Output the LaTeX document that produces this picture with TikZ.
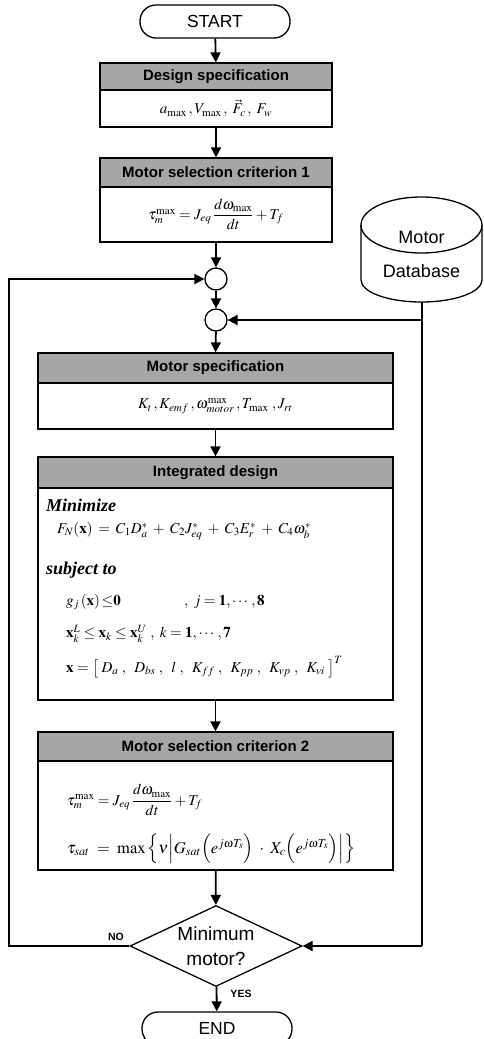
\documentclass[tikz,border=0pt]{standalone}
\usepackage{mathptmx}
\usepackage{amsmath}
\usepackage[no-math]{fontspec}
\setmainfont{Liberation Serif}
\setsansfont{Liberation Sans}
\usetikzlibrary{arrows.meta,shapes.geometric}
\newcommand\msz{\fontsize{15}{18}\selectfont}
\tikzset{
  hdr/.style={draw, line width=1.3pt, fill=black!35, inner sep=0pt,
    font=\sffamily\bfseries\fontsize{15}{18}\selectfont},
  bdy/.style={draw, line width=1.3pt, fill=white, inner sep=0pt, font=\msz},
  txt/.style={inner sep=0pt, font=\msz},
  itl/.style={inner sep=0pt, font=\rmfamily\bfseries\itshape\fontsize{18}{21}\selectfont},
  arr/.style={line width=1.8pt, -{Triangle[length=10pt,width=10pt]}},
  ln/.style={line width=1.8pt},
  term/.style={draw, line width=1.3pt, rounded corners=16pt, inner sep=0pt,
    minimum width=150pt, minimum height=33pt,
    font=\sffamily\fontsize{17.5}{20}\selectfont},
  circ/.style={draw, line width=1.3pt, circle, minimum size=22pt, inner sep=0pt, fill=white},
  lbl/.style={inner sep=0pt, font=\sffamily\bfseries\fontsize{10.5}{12}\selectfont}
}
\begin{document}
\begin{tikzpicture}[x=1pt,y=-1pt]
\useasboundingbox (0,0) rectangle (483,1039);
\clip (0,0) rectangle (483,1039);

% START
\node[term] (start) at (215,21.5) {START};

% Design specification
\node[hdr, minimum width=232pt, minimum height=27pt] (ds) at (216,76.5) {Design specification};
\node[bdy, minimum width=232pt, minimum height=37pt] (dsb) at (216,108.5)
  {$a_{\max}\,,V_{\max}\,,\;\vec{F}_{c}\,,\;F_w$};

% Motor selection criterion 1
\node[hdr, minimum width=232pt, minimum height=29pt] (m1) at (216,172.5) {Motor selection criterion 1};
\node[bdy, minimum width=232pt, minimum height=55pt] (m1b) at (216,214.5)
  {$\tau_m^{\max} = J_{eq}\,\dfrac{d\omega_{\max}}{dt} + T_f$};

% circles
\node[circ] (c1) at (216,279) {};
\node[circ] (c2) at (216,320) {};

% Motor database
\draw[line width=1.3pt, fill=white] (361,225) -- (361,280)
  arc[start angle=180, end angle=0, x radius=60.5, y radius=22] -- (482,225);
\draw[line width=1.3pt] (421.5,225) ellipse [x radius=60.5, y radius=28];
\node[inner sep=0pt, align=center, font=\sffamily\fontsize{18}{34}\selectfont] (db) at (421.5,254)
  {Motor\\Database};
\coordinate (dbbot) at (422,302);
\coordinate (dbj) at (422,320);
\coordinate (dbb) at (422,946);

% Motor specification
\node[hdr, minimum width=355pt, minimum height=30pt] (ms) at (215.5,368) {Motor specification};
\node[bdy, minimum width=355pt, minimum height=46pt] (msb) at (215.5,406)
  {$K_t\,, K_{emf}\,, \omega_{motor}^{\max}\,,T_{\max}\;, J_{rt}$};

% Integrated design
\node[hdr, minimum width=355pt, minimum height=31pt] (ig) at (215.5,472.5) {Integrated design};
\node[bdy, minimum width=355pt, minimum height=212pt] (igb) at (215.5,594) {};
\node[itl, anchor=west] (t1) at (46,505) {Minimize};
\node[txt, anchor=west] (t2) at (57,531)
  {\medmuskip=6.5mu\thickmuskip=7mu$F_N(\mathbf{x}) = C_1D_a^* + C_2J_{eq}^* + C_3E_r^* + C_4\omega_b^*$};
\node[itl, anchor=west] (t3) at (46,570) {subject to};
\node[txt, anchor=west] (t4) at (66,602) {$g_j\left(\mathbf{x}\right){\le}\mathbf{0}$};
\node[txt, anchor=west] (t5) at (184,602) {$,\ j = \mathbf{1}, \cdots, \mathbf{8}$};
\node[txt, anchor=west] (t6) at (66,634)
  {$\mathbf{x}_k^L \le \mathbf{x}_k \le \mathbf{x}_k^U\ ,\ k = \mathbf{1}, \cdots, \mathbf{7}$};
\node[txt, anchor=west] (t7) at (66,667)
  {$\mathbf{x} = \left[\;D_a\;,\;\;D_{bs}\;,\;\;l\;,\;\;K_{ff}\;,\;\;K_{pp}\;,\;\;K_{vp}\;,\;\;K_{vi}\;\right]^T$};

% Motor selection criterion 2
\node[hdr, minimum width=355pt, minimum height=29pt] (m2) at (215.5,746.5) {Motor selection criterion 2};
\node[bdy, minimum width=355pt, minimum height=109pt] (m2b) at (215.5,815.5) {};
\node[txt, anchor=west] (t8) at (67,800)
  {$\tau_m^{\max} = J_{eq}\,\dfrac{d\omega_{\max}}{dt} + T_f$};
\node[txt, anchor=west, font=\fontsize{16.5}{20}\selectfont] (t9) at (67,849)
  {$\tau_{sat} \;=\; \max\Big\{\nu\Big|G_{sat}\Big(e^{j\omega T_s}\Big)\;\cdot\; X_c\Big(e^{j\omega T_s}\Big)\Big|\Big\}$};

% Decision
\node[draw, line width=1.3pt, diamond, aspect=2.12, inner sep=0pt,
  minimum width=172pt, minimum height=81pt, align=center,
  font=\sffamily\fontsize{19}{25}\selectfont] (dia) at (216,946) {Minimum\\motor?};

% END
\node[term] (end) at (217,1028.5) {END};

% connectors
\draw[arr] (start) -- (ds);
\draw[arr] (dsb) -- (m1);
\draw[arr] (m1b) -- (c1);
\draw[arr] (c1) -- (c2);
\draw[arr] (c2) -- (ms);
\draw[arr] (msb) -- (ig);
\draw[arr] (igb) -- (m2);
\draw[arr] (m2b) -- (dia);
\draw[arr] (dia) -- (end);
\coordinate (lb) at (9,946);
\coordinate (lt) at (9,279);
\draw[arr] (dia.west) -- (lb) -- (lt) -- (c1);
\draw[ln] (dbbot) -- (dbb);
\draw[arr] (dbj) -- (c2);
\draw[arr] (dbb) -- (dia.east);

\node[lbl] (no) at (116,937) {NO};
\node[lbl] (yes) at (241,994) {YES};
\end{tikzpicture}
\end{document}
